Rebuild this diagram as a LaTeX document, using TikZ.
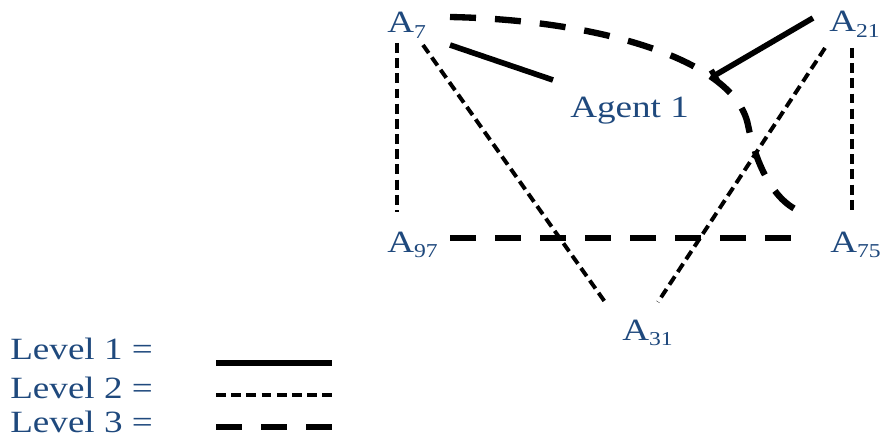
\documentclass[tikz,border=0pt]{standalone}
\usepackage{fontspec}
\setmainfont[FakeStretch=1.2]{Liberation Serif}
\usepackage{xcolor}
\usepackage{tikz}
\usetikzlibrary{arrows.meta,calc}
\definecolor{agentblue}{RGB}{31,73,125}
\newcommand{\agsub}[1]{A\raisebox{-4pt}{\fontsize{14}{14}\selectfont #1}}

\begin{document}
\begin{tikzpicture}[
    x=0.025cm, y=-0.025cm,
    lbl/.style={anchor=base west, inner sep=0pt, text=agentblue,
                font=\fontsize{22}{22}\selectfont},
    lvlone/.style={line width=4pt},
    lvltwo/.style={line width=2.8pt, dash pattern=on 7pt off 3.8pt},
    lvlthree/.style={line width=4.5pt, dash pattern=on 18.5pt off 13.5pt},
]
    \useasboundingbox (0,0) rectangle (880,439);

    % Agents
    \node[lbl] (a7)    at (387,33)  {\agsub{7}};
    \node[lbl] (a21)   at (829,32)  {\agsub{21}};
    \node[lbl] (a97)   at (387,252) {\agsub{97}};
    \node[lbl] (a75)   at (830,252) {\agsub{75}};
    \node[lbl] (a31)   at (622,340) {\agsub{31}};
    \node[lbl] (agent) at (570,118) {Agent 1};

    % Level 1 links
    \draw[lvlone] ($(a7.base west)+(63,12)$) -- ($(agent.base west)+(-17,-38)$);
    \draw[lvlone, -{Bar[width=9pt]}] ($(a21.base west)+(-16,-14)$) -- ($(agent.base west)+(142,-41)$);

    % Level 2 links
    \draw[lvltwo] ($(a7.base west)+(10,10)$) -- ($(a97.base west)+(10,-40)$);
    \draw[lvltwo] ($(a21.base west)+(23,16)$) -- ($(a75.base west)+(22,-39)$);
    \draw[lvltwo] ($(a7.base west)+(36,12)$) -- ($(a31.base west)+(-17,-38)$);
    \draw[lvltwo] ($(a21.base west)+(-4,16)$) -- ($(a31.base west)+(36,-38)$);

    % Level 3 links
    \draw[lvlthree] ($(a97.base west)+(63,-14)$) -- ($(a75.base west)+(-35,-14)$);
    \draw[lvlthree] ($(a7.base west)+(63,-16)$) .. controls (600,20) and (735,60) .. (748,125)
        .. controls (756,165) and (775,205) .. ($(a75.base west)+(-25,-39)$);

    % Legend
    \node[lbl] (lv1) at (10,359) {Level 1 =};
    \node[lbl] (lv2) at (10,398) {Level 2 =};
    \node[lbl] (lv3) at (10,432) {Level 3 =};
    \draw[lvlone]   ($(lv1.base west)+(206,4)$)  -- ++(116,0);
    \draw[lvltwo]   ($(lv2.base west)+(206,-3)$) -- ++(116,0);
    \draw[lvlthree] ($(lv3.base west)+(206,-5)$) -- ++(116,0);
\end{tikzpicture}
\end{document}
